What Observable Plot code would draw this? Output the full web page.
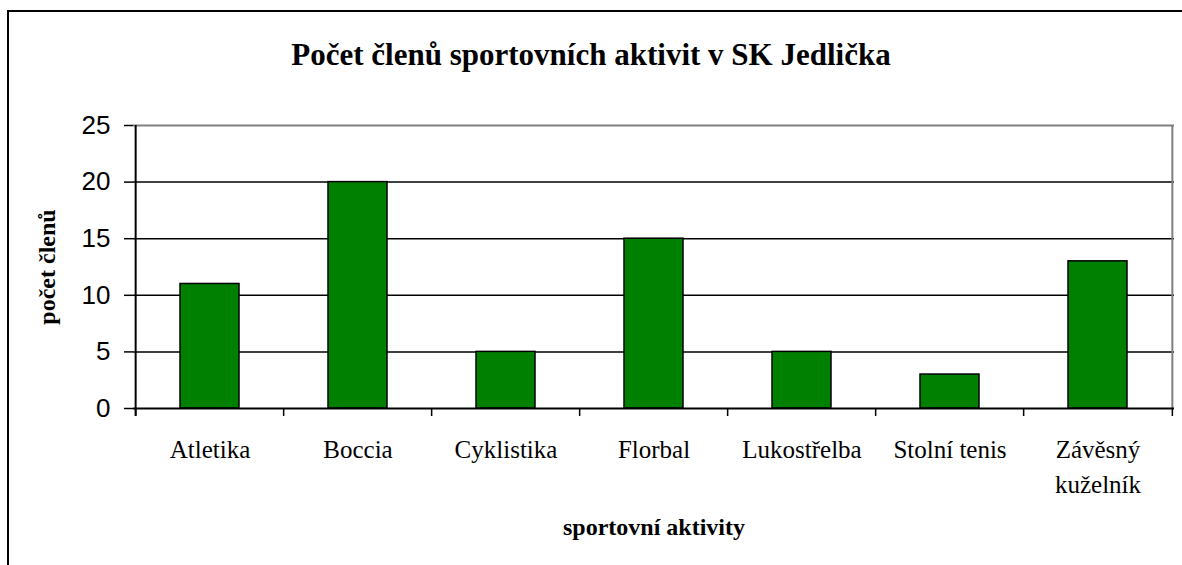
<!DOCTYPE html>
<html>
<head>
<meta charset="utf-8">
<script src="https://cdn.jsdelivr.net/npm/d3@7"></script>
<script src="https://cdn.jsdelivr.net/npm/@observablehq/plot@0.6"></script>
<style>
  html, body { margin: 0; padding: 0; background: #fff; overflow: hidden; width: 1182px; height: 565px; }
  #border { position: absolute; left: 7px; top: 10px; width: 1200px; height: 600px; border: 2px solid #000; box-sizing: border-box; }
  #title { position: absolute; left: 0; top: 39px; width: 1182px; text-align: center; font: bold 31px "Liberation Serif", serif; line-height: 31px; color: #000; }
  #chart { position: absolute; left: 0; top: 0; }
  #chart g[aria-label="y-axis label"] text, #chart g[aria-label="x-axis label"] text { font-family: "Liberation Serif", serif; font-weight: bold; font-size: 24px; }
</style>
</head>
<body>
<div id="border"></div>
<div id="title">Počet členů sportovních aktivit v SK Jedlička</div>
<div id="chart"></div>
<script>
const categories = ["Atletika", "Boccia", "Cyklistika", "Florbal", "Lukostřelba", "Stolní tenis", "Závěsný kuželník"];
const tickLabels = ["Atletika", "Boccia", "Cyklistika", "Florbal", "Lukostřelba", "Stolní tenis", "Závěsný\nkuželník"];
const members = [11, 20, 5, 15, 5, 3, 13];
const yTicks = [0, 5, 10, 15, 20, 25];
const yGrid = [5, 10, 15, 20];

const data = categories.map((c, i) => ({category: c, value: members[i]}));
const labelOf = new Map(categories.map((c, i) => [c, tickLabels[i]]));

const W = 1182, H = 565, mL = 133, mR = 8, mT = 125, mB = 157;
const step = (W - mL - mR) / categories.length;
const last = categories[categories.length - 1];

const chart = Plot.plot({
  width: W,
  height: H,
  marginLeft: mL,
  marginRight: mR,
  marginTop: mT,
  marginBottom: mB,
  style: {background: "transparent", color: "#000"},
  x: {domain: categories, paddingInner: 0.6, paddingOuter: 0.3},
  y: {domain: [0, 25]},
  marks: [
    Plot.gridY(yGrid, {stroke: "#000", strokeOpacity: 1, strokeWidth: 1.5}),
    Plot.ruleY([25], {stroke: "#808080", strokeWidth: 2}),
    Plot.ruleX([last], {x: d => d, dx: step / 2, stroke: "#808080", strokeWidth: 2}),
    Plot.barY(data, {x: "category", y: "value", fill: "#008000", stroke: "#000", strokeWidth: 1.5}),
    Plot.ruleY([0], {stroke: "#000", strokeWidth: 2}),
    Plot.ruleX([categories[0]], {x: d => d, dx: -step / 2, stroke: "#000", strokeWidth: 2, insetBottom: -8}),
    Plot.ruleX(categories, {x: d => d, y1: 0, y2: 0, dx: -step / 2, stroke: "#000", strokeWidth: 1.5, insetBottom: -8}),
    Plot.ruleX([last], {x: d => d, y1: 0, y2: 0, dx: step / 2, stroke: "#000", strokeWidth: 1.5, insetBottom: -8}),
    Plot.axisY({
      ticks: yTicks, tickSize: 9, tickPadding: 14, strokeWidth: 1.5,
      fontSize: 26, fontFamily: "Liberation Sans, Arial, sans-serif",
      label: "počet členů", labelAnchor: "center", labelOffset: 96, labelArrow: "none"
    }),
    Plot.axisX({
      tickSize: 0, tickPadding: 25, lineHeight: 1.4,
      fontSize: 25, fontFamily: "Liberation Serif, serif",
      tickFormat: d => labelOf.get(d),
      label: "sportovní aktivity", labelAnchor: "center", labelOffset: 126, labelArrow: "none"
    })
  ]
});
document.getElementById("chart").appendChild(chart);
</script>
</body>
</html>
